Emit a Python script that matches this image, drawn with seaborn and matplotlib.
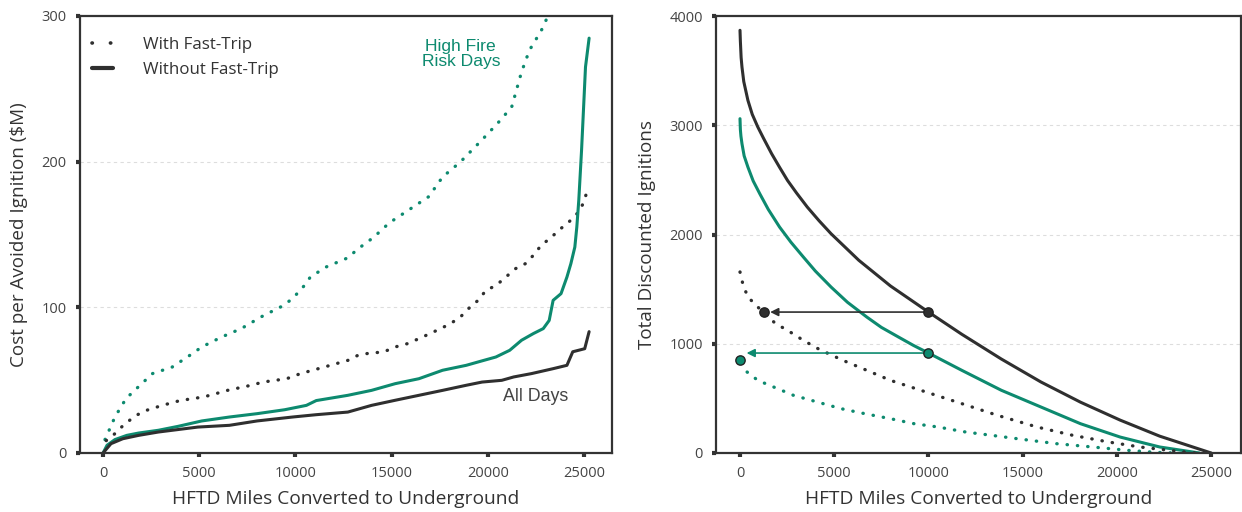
import numpy as np
import pandas as pd
import matplotlib
matplotlib.use("Agg")
import matplotlib.pyplot as plt
import seaborn as sns
from matplotlib.lines import Line2D

# ---------------- data: left panel (cost per avoided ignition, $M) ----------------
hf_with_x = [100, 616, 1190, 1640, 2566, 3592, 4618, 5131, 6158, 7184, 8210, 9339, 9852, 10468,
             10776, 11597, 12726, 13240, 14060, 14882, 15908, 16934, 17652, 18576, 19704, 20525,
             21244, 21757, 22167, 22783, 23200]
hf_with_y = [9.2, 24.7, 37.3, 43, 54.5, 59, 68, 72.8, 79.6, 85.4, 93.4, 101, 106, 115,
             120.8, 127.7, 134, 140, 148, 158, 167, 176, 189.5, 199.8, 215, 226.5,
             237.5, 261.6, 276.5, 290, 302]

all_with_x = [164, 616, 1129, 1745, 2258, 3079, 4002, 5234, 5850, 6466, 7697, 8313, 9545, 10263,
              11494, 12110, 12726, 13240, 13855, 14573, 15189, 15805, 16420, 17000, 17550, 18060,
              18580, 19090, 19500, 19910, 20430, 20940, 21450, 21960, 22370, 22780, 23300, 23700,
              24220, 24730, 25000, 25220]
all_with_y = [8.5, 13.3, 20, 26, 29.3, 32.7, 36, 38.5, 40.7, 43, 46.5, 48.7, 51, 54.5,
              59, 61.3, 63.6, 67, 68.6, 69.3, 72.8, 75, 78.5, 82, 85.4, 88.8,
              93.4, 100.3, 104.8, 111.7, 115, 120.8, 126.6, 130, 135.7, 142.6, 148, 153,
              158.6, 165.5, 172.3, 182.5]

hf_without_x = [0, 205, 616, 1232, 1847, 2874, 3900, 5131, 6568, 8005, 9442, 10571, 11084, 12726,
                13958, 15189, 16420, 17652, 18883, 19499, 20422, 21141, 21757, 22373, 22886, 23194,
                23399, 23810, 24117, 24322, 24528, 24631, 24733, 24877, 25000, 25082, 25270]
hf_without_y = [0, 5.3, 9.2, 12.1, 13.7, 15.6, 18.3, 22, 24.7, 27, 29.7, 32.7, 36, 39.6,
                43, 47.6, 51, 56.8, 60.2, 62.5, 65.9, 70.5, 77.4, 82, 85.4, 91,
                104.8, 109.4, 120.8, 130, 141.4, 155.2, 173.5, 207.8, 242, 265, 284.8]

all_without_x = [0, 410, 1026, 1847, 2874, 4926, 6568, 8005, 9852, 11084, 12726, 13958, 15189,
                 16420, 17652, 18883, 19704, 20730, 21346, 22270, 23400, 24117, 24420, 25041, 25270]
all_without_y = [0, 6.4, 9.8, 12.1, 14.4, 17.8, 19, 22, 24.7, 26.3, 28.1, 32.7, 36.2,
                 39.6, 43, 46.5, 48.7, 49.9, 52.2, 54.5, 57.9, 60.2, 69.5, 71.6, 83.3]

# ---------------- data: right panel (total discounted ignitions) ----------------
r_all_without_x = [0, 20, 60, 105, 200, 420, 650, 945, 1250, 1680, 2100, 2521, 3000, 3571, 4200,
                   4832, 6303, 7983, 10000, 11765, 13866, 15966, 18067, 20168, 22269, 25000]
r_all_without_y = [3869, 3770, 3620, 3533, 3400, 3228, 3100, 2984, 2880, 2739, 2615, 2495, 2380,
                   2251, 2125, 2007, 1764, 1529, 1290, 1087, 860, 650, 465, 301, 154, 0]

r_hf_without_x = [0, 20, 50, 105, 220, 420, 700, 1050, 1500, 2100, 2700, 3361, 4000, 4832, 5700,
                  6723, 7500, 8403, 9200, 10000, 11765, 13866, 15966, 18067, 20168, 22269, 24370]
r_hf_without_y = [3060, 2960, 2900, 2831, 2720, 2617, 2490, 2373, 2230, 2068, 1930, 1794, 1665,
                  1519, 1380, 1245, 1150, 1062, 985, 915, 757, 574, 421, 268, 146, 55, 0]

r_all_with_x = [0, 168, 420, 945, 1890, 2521, 3361, 4202, 5462, 6723, 7983, 9874, 11765, 13655,
                15756, 17647, 19538, 21218, 23109, 24160]
r_all_with_y = [1657, 1535, 1428, 1336, 1184, 1123, 1031, 949, 848, 757, 665, 558, 452, 345,
                238, 162, 101, 55, 18, 0]

r_hf_with_x = [378, 945, 1575, 2206, 2836, 4097, 5357, 6618, 7983, 9244, 10504, 11975, 13340,
               14706, 16807, 18697, 20588, 22059, 23109]
r_hf_with_y = [741, 665, 619, 574, 528, 467, 406, 360, 314, 268, 238, 192, 162,
               131, 85, 55, 24, 6, 0]

# annotation points: (from x, to x, y from, y to)
arrow_all = [10000, 1250, 1290, 1290]
arrow_hf = [10000, 0, 915, 855]

x_ticks = [0, 5000, 10000, 15000, 20000, 25000]
left_yticks = [0, 100, 200, 300]
right_yticks = [0, 1000, 2000, 3000, 4000]

TEAL = "#0d8a6f"
DARK = "#2f2f2f"

sns.set_theme(style="white")
plt.rcParams["font.family"] = ["Open Sans", "DejaVu Sans"]

fig = plt.figure(figsize=(12.42, 5.12), dpi=100)
axL = fig.add_axes([80 / 1242, 59 / 512, 532 / 1242, 437 / 512])
axR = fig.add_axes([716 / 1242, 59 / 512, 525 / 1242, 437 / 512])

dot_kw = dict(linestyle=(0, (0.1, 3.0)), dash_capstyle="round", linewidth=2.4)


def draw(ax, x, y, color, dotted):
    df = pd.DataFrame({"x": x, "y": y})
    if dotted:
        sns.lineplot(data=df, x="x", y="y", ax=ax, color=color, estimator=None, sort=False,
                     **dot_kw)
    else:
        sns.lineplot(data=df, x="x", y="y", ax=ax, color=color, estimator=None, sort=False,
                     linewidth=2.2)


draw(axL, hf_with_x, hf_with_y, TEAL, True)
draw(axL, all_with_x, all_with_y, DARK, True)
draw(axL, hf_without_x, hf_without_y, TEAL, False)
draw(axL, all_without_x, all_without_y, DARK, False)

draw(axR, r_all_without_x, r_all_without_y, DARK, False)
draw(axR, r_hf_without_x, r_hf_without_y, TEAL, False)
draw(axR, r_all_with_x, r_all_with_y, DARK, True)
draw(axR, r_hf_with_x, r_hf_with_y, TEAL, True)

# arrows + markers
for arr, col in [(arrow_all, DARK), (arrow_hf, TEAL)]:
    x0, x1, y0, y1 = arr
    axR.annotate("", xy=(x1 + 350, y0), xytext=(x0, y0),
                 arrowprops=dict(arrowstyle="-|>", color=col, lw=1.2, mutation_scale=12,
                                 shrinkA=0, shrinkB=0))
    sns.scatterplot(x=[x0, x1], y=[y0, y1], ax=axR, color=col, s=45, edgecolor="#222222",
                    linewidth=1.0, zorder=5)

for ax, yt, ylim, xlim, ylabel, lpad in [
    (axL, left_yticks, (0, 300), (-1200, 26460), "Cost per Avoided Ignition ($M)", 9.5),
    (axR, right_yticks, (0, 4000), (-1273, 26580), "Total Discounted Ignitions", 9.3),
]:
    ax.set_xlim(*xlim)
    ax.set_ylim(*ylim)
    ax.set_xticks(x_ticks)
    ax.set_yticks(yt)
    ax.set_xticklabels([str(t) for t in x_ticks])
    ax.set_yticklabels([str(t) for t in yt])
    for s in ax.spines.values():
        s.set_color("#333333")
        s.set_linewidth(1.6)
    ax.tick_params(axis="both", which="major", direction="out", length=3, width=3,
                   color="#333333", labelsize=10.5, labelcolor="#444444", pad=6.5,
                   left=True, bottom=True)
    for t in yt[1:-1]:
        ax.axhline(t, color="#dddddd", lw=0.8, ls=(0, (3, 3)), zorder=0)
    ax.set_xlabel("HFTD Miles Converted to Underground", fontsize=13.8, color="#333333",
                  labelpad=6)
    ax.set_ylabel(ylabel, fontsize=13.6, color="#333333", labelpad=lpad)

# legend
handles = [Line2D([], [], color=DARK, linestyle=(0, (0.1, 5.0)), dash_capstyle="round",
                  linewidth=2.6),
           Line2D([], [], color=DARK, linewidth=3)]
axL.legend(handles, ["With Fast-Trip", "Without Fast-Trip"], loc="upper left",
           bbox_to_anchor=(0.022, 0.951), frameon=False, fontsize=12.2, handlelength=1.25,
           handletextpad=1.75, labelspacing=0.5, borderpad=0, borderaxespad=0,
           labelcolor="#333333")

axL.text(18600, 274, "High Fire\nRisk Days", color=TEAL, fontsize=12.6, ha="center",
         va="center", family=["Liberation Sans", "DejaVu Sans"], linespacing=0.98)
axL.text(22510, 39, "All Days", color="#444444", fontsize=12.8, ha="center", va="center",
         family=["Liberation Sans", "DejaVu Sans"])

fig.savefig("out.png", dpi=100)
